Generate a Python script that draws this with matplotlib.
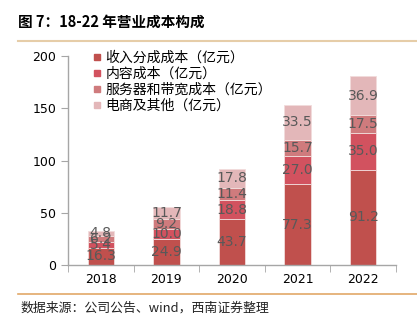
import matplotlib
matplotlib.use("Agg")
import matplotlib.pyplot as plt
from matplotlib.lines import Line2D
import numpy as np

plt.rcParams['font.family'] = ['Noto Sans CJK SC', 'DejaVu Sans']

years = ['2018', '2019', '2020', '2021', '2022']
series_names = ['收入分成成本（亿元）', '内容成本（亿元）', '服务器和带宽成本（亿元）', '电商及其他（亿元）']
revenue_share = [16.3, 24.9, 43.7, 77.3, 91.2]
content = [5.4, 10.0, 18.8, 27.0, 35.0]
server = [6.2, 9.2, 11.4, 15.7, 17.5]
ecommerce = [4.8, 11.7, 17.8, 33.5, 36.9]
colors = ['#C0504D', '#D2525F', '#CF7B7D', '#E3B7B9']
yticks = [0, 50, 100, 150, 200]

fig = plt.figure(figsize=(4.17, 3.23), dpi=100)
ax = fig.add_axes([68/417, 1-265/323, (396-68)/417, (265-56)/323])

x = np.arange(len(years))
bottom = np.zeros(len(years))
for vals, c, name in zip([revenue_share, content, server, ecommerce], colors, series_names):
    vals = np.array(vals)
    ax.bar(x, vals, 0.4, bottom=bottom, color=c, edgecolor='#F2DCDB', linewidth=0.6, label=name)
    for xi, b, v in zip(x, bottom, vals):
        ax.text(xi, b + v/2, f'{v:.1f}', ha='center', va='center', fontsize=10,
                color='#595959', family=['DejaVu Sans'])
    bottom += vals

ax.set_xlim(-0.5, 4.5)
ax.set_ylim(0, 200)
ax.set_yticks(yticks)
ax.set_xticks(x)
ax.set_xticklabels(years)
ax.set_xticks(np.arange(-0.5, 5, 1), minor=True)
ax.tick_params(axis='x', which='major', length=0, labelsize=9, pad=6)
ax.tick_params(axis='x', which='minor', length=5, color='#A6A6A6', direction='out')
ax.tick_params(axis='y', length=5, color='#A6A6A6', labelsize=9, direction='out')
for lab in ax.get_xticklabels() + ax.get_yticklabels():
    lab.set_family(['DejaVu Sans'])
for s in ['top', 'right']:
    ax.spines[s].set_visible(False)
for s in ['left', 'bottom']:
    ax.spines[s].set_color('#A6A6A6')
    ax.spines[s].set_linewidth(1.0)

handles = [Line2D([0], [0], marker='s', linestyle='none', markersize=5, markerfacecolor=c,
                  markeredgecolor=c) for c in colors]
ax.legend(handles, series_names, loc='upper left', bbox_to_anchor=(0.05, 1.065), frameon=False,
          fontsize=10, handlelength=0.6, handletextpad=0.3, labelspacing=0.15, borderaxespad=0.2)

fig.text(18/417, 1-22/323, '图 7：18-22 年营业成本构成', fontsize=10.5, fontweight='bold',
         va='center', ha='left')
fig.add_artist(Line2D([18/417, 1], [1-41/323, 1-41/323], color='#E6CDA8', linewidth=1.5))
fig.add_artist(Line2D([18/417, 1], [1-294/323, 1-294/323], color='#E2A868', linewidth=1.2))
fig.text(20/417, 1-308/323, '数据来源：公司公告、wind，西南证券整理', fontsize=9.3, style='italic',
         va='center', ha='left', color='#222222')

fig.savefig('out.png', dpi=100)
